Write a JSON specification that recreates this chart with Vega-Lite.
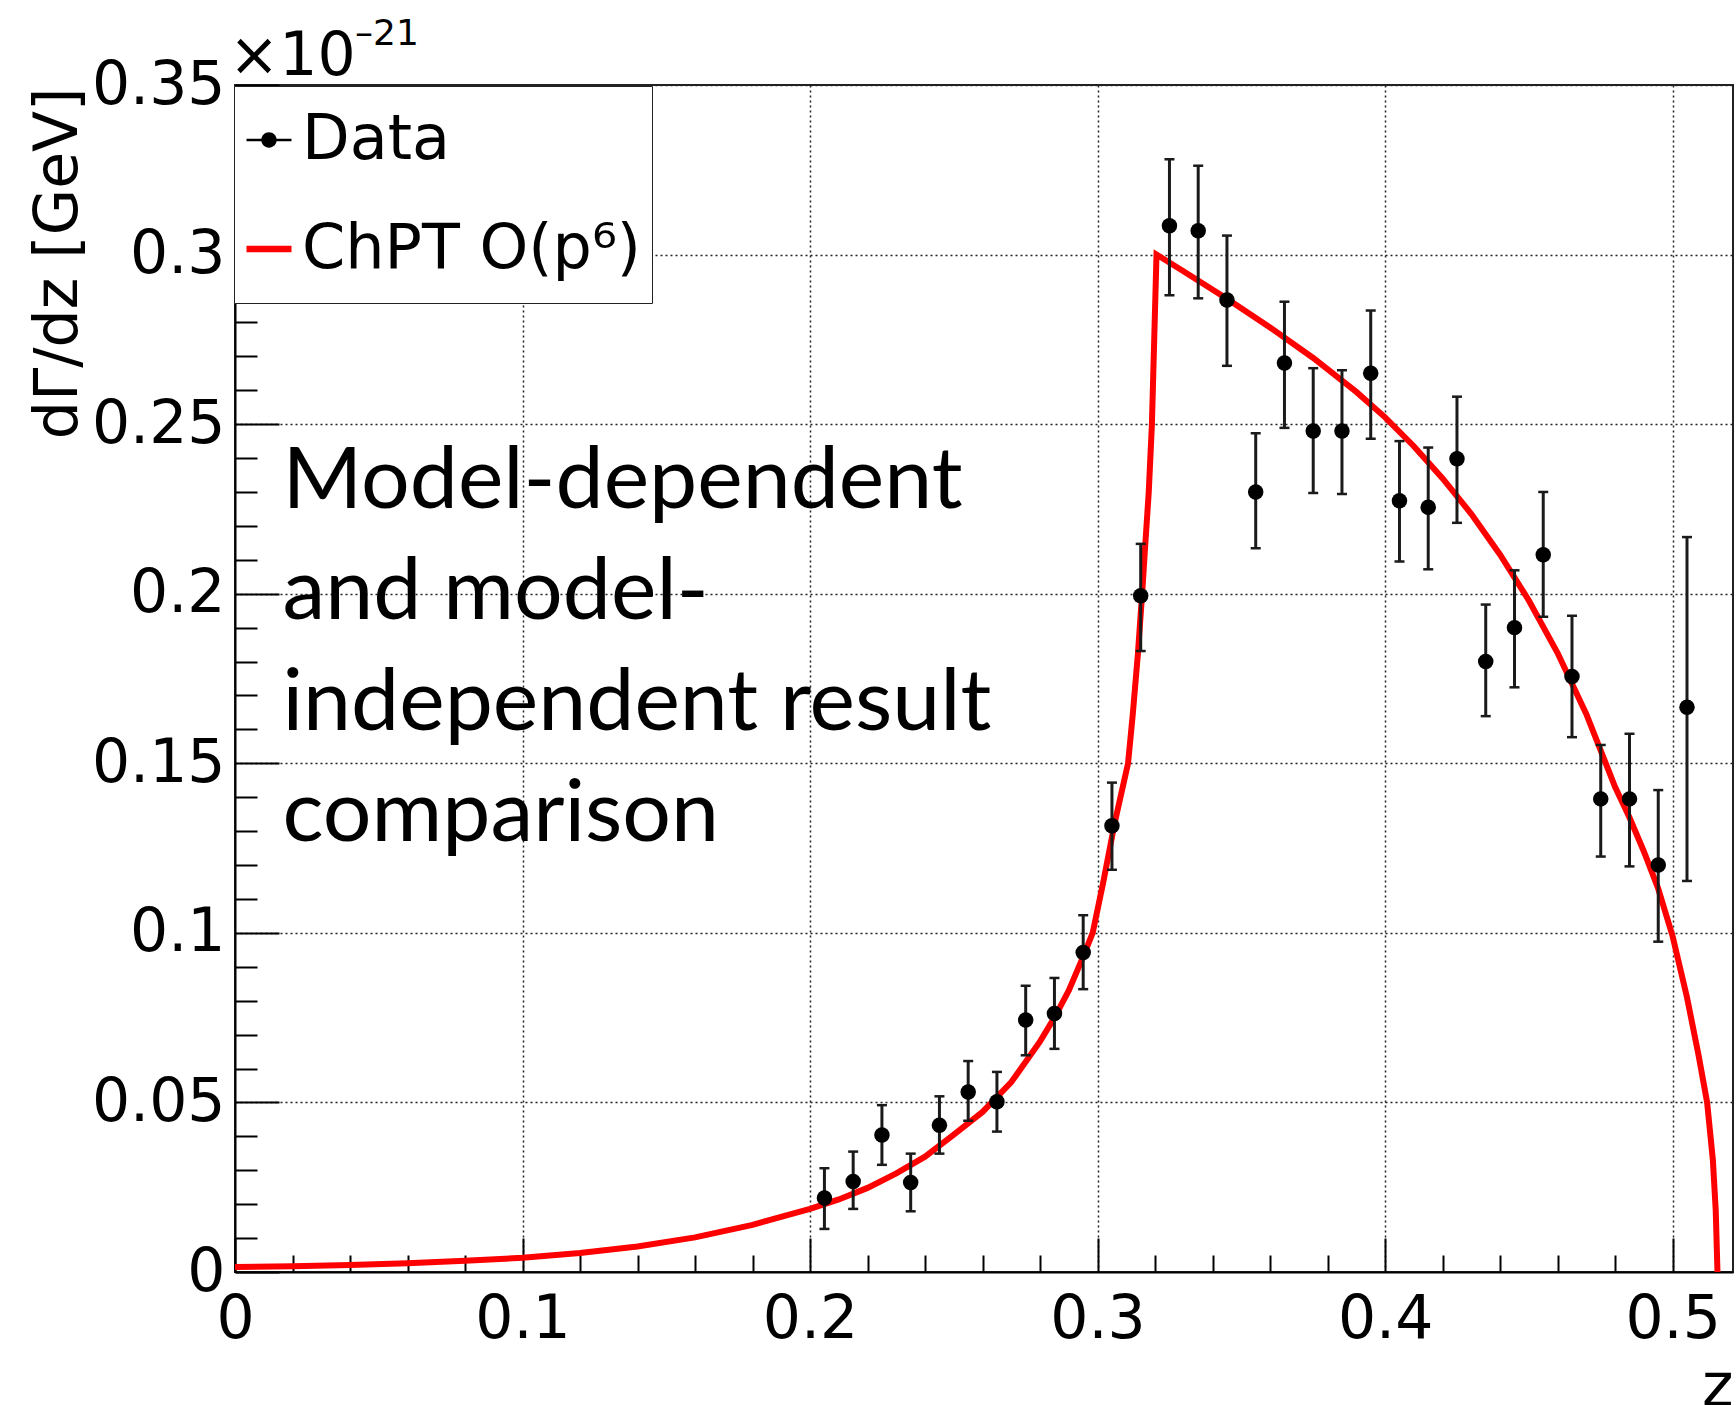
{
  "$schema": "https://vega.github.io/schema/vega-lite/v6.json",
  "width": 1498,
  "height": 1187,
  "autosize": {"type": "none"},
  "padding": {"left": 235, "top": 85, "right": 3, "bottom": 133},
  "background": "white",
  "config": {"view": {"stroke": "#222", "strokeWidth": 2}},
  "datasets": {
    "curve": [
      {"z": 0.0, "y": 0.0015}, {"z": 0.02, "y": 0.0017}, {"z": 0.04, "y": 0.0021}, {"z": 0.06, "y": 0.0026},
      {"z": 0.08, "y": 0.0033}, {"z": 0.1, "y": 0.0042}, {"z": 0.12, "y": 0.0056}, {"z": 0.14, "y": 0.0075},
      {"z": 0.16, "y": 0.0102}, {"z": 0.18, "y": 0.0139}, {"z": 0.2, "y": 0.0186}, {"z": 0.21, "y": 0.0214},
      {"z": 0.22, "y": 0.0248}, {"z": 0.23, "y": 0.0291}, {"z": 0.24, "y": 0.034}, {"z": 0.25, "y": 0.0405},
      {"z": 0.26, "y": 0.0472}, {"z": 0.27, "y": 0.056}, {"z": 0.28, "y": 0.068}, {"z": 0.285, "y": 0.075},
      {"z": 0.29, "y": 0.083}, {"z": 0.295, "y": 0.093}, {"z": 0.2983, "y": 0.1}, {"z": 0.302, "y": 0.115},
      {"z": 0.306, "y": 0.1326}, {"z": 0.3106, "y": 0.15}, {"z": 0.3122, "y": 0.164}, {"z": 0.314, "y": 0.182},
      {"z": 0.3155, "y": 0.2}, {"z": 0.3165, "y": 0.2133}, {"z": 0.3178, "y": 0.23}, {"z": 0.3189, "y": 0.25},
      {"z": 0.3197, "y": 0.275}, {"z": 0.3205, "y": 0.3}, {"z": 0.33, "y": 0.295}, {"z": 0.345, "y": 0.287},
      {"z": 0.36, "y": 0.2785}, {"z": 0.375, "y": 0.2695}, {"z": 0.39, "y": 0.2595}, {"z": 0.4, "y": 0.252},
      {"z": 0.41, "y": 0.2435}, {"z": 0.42, "y": 0.234}, {"z": 0.43, "y": 0.2235}, {"z": 0.44, "y": 0.2115},
      {"z": 0.45, "y": 0.198}, {"z": 0.46, "y": 0.1825}, {"z": 0.47, "y": 0.1645}, {"z": 0.48, "y": 0.143},
      {"z": 0.485, "y": 0.134}, {"z": 0.49, "y": 0.124}, {"z": 0.495, "y": 0.113}, {"z": 0.5, "y": 0.099},
      {"z": 0.505, "y": 0.081}, {"z": 0.509, "y": 0.064}, {"z": 0.512, "y": 0.05}, {"z": 0.514, "y": 0.033},
      {"z": 0.515, "y": 0.018}, {"z": 0.5156, "y": 0.0}
    ],
    "points": [
      {"series": "Data", "z": 0.205, "y": 0.0218, "lo": 0.0127, "hi": 0.0306},
      {"series": "Data", "z": 0.215, "y": 0.0267, "lo": 0.0186, "hi": 0.0355},
      {"series": "Data", "z": 0.225, "y": 0.0404, "lo": 0.0316, "hi": 0.0492},
      {"series": "Data", "z": 0.235, "y": 0.0264, "lo": 0.0179, "hi": 0.0349},
      {"series": "Data", "z": 0.245, "y": 0.0433, "lo": 0.0349, "hi": 0.0518},
      {"series": "Data", "z": 0.255, "y": 0.0531, "lo": 0.0446, "hi": 0.0622},
      {"series": "Data", "z": 0.265, "y": 0.0502, "lo": 0.0414, "hi": 0.059},
      {"series": "Data", "z": 0.275, "y": 0.0743, "lo": 0.0639, "hi": 0.0844},
      {"series": "Data", "z": 0.285, "y": 0.0762, "lo": 0.0658, "hi": 0.0867},
      {"series": "Data", "z": 0.295, "y": 0.0942, "lo": 0.0834, "hi": 0.1052},
      {"series": "Data", "z": 0.305, "y": 0.1316, "lo": 0.1186, "hi": 0.1443},
      {"series": "Data", "z": 0.315, "y": 0.1994, "lo": 0.1831, "hi": 0.2147},
      {"series": "Data", "z": 0.325, "y": 0.3085, "lo": 0.288, "hi": 0.3281},
      {"series": "Data", "z": 0.335, "y": 0.307, "lo": 0.2871, "hi": 0.3262},
      {"series": "Data", "z": 0.345, "y": 0.2866, "lo": 0.2672, "hi": 0.3056},
      {"series": "Data", "z": 0.355, "y": 0.23, "lo": 0.2134, "hi": 0.2473},
      {"series": "Data", "z": 0.365, "y": 0.268, "lo": 0.2489, "hi": 0.2861},
      {"series": "Data", "z": 0.375, "y": 0.248, "lo": 0.2297, "hi": 0.2665},
      {"series": "Data", "z": 0.385, "y": 0.248, "lo": 0.2294, "hi": 0.2659},
      {"series": "Data", "z": 0.395, "y": 0.265, "lo": 0.2457, "hi": 0.2835},
      {"series": "Data", "z": 0.405, "y": 0.2274, "lo": 0.2095, "hi": 0.245},
      {"series": "Data", "z": 0.415, "y": 0.2255, "lo": 0.2072, "hi": 0.2431},
      {"series": "Data", "z": 0.425, "y": 0.2398, "lo": 0.2209, "hi": 0.2581},
      {"series": "Data", "z": 0.435, "y": 0.18, "lo": 0.1639, "hi": 0.1968},
      {"series": "Data", "z": 0.445, "y": 0.19, "lo": 0.1724, "hi": 0.2069},
      {"series": "Data", "z": 0.455, "y": 0.2115, "lo": 0.1932, "hi": 0.23},
      {"series": "Data", "z": 0.465, "y": 0.1756, "lo": 0.1577, "hi": 0.1935},
      {"series": "Data", "z": 0.475, "y": 0.1395, "lo": 0.1225, "hi": 0.1554},
      {"series": "Data", "z": 0.485, "y": 0.1395, "lo": 0.1196, "hi": 0.1587},
      {"series": "Data", "z": 0.495, "y": 0.12, "lo": 0.0974, "hi": 0.1421},
      {"series": "Data", "z": 0.505, "y": 0.1665, "lo": 0.1153, "hi": 0.2167}
    ]
  },
  "encoding": {
    "x": {
      "type": "quantitative",
      "scale": {"domain": [0, 0.521], "nice": false, "zero": false},
      "axis": {
        "values": [0, 0.02, 0.04, 0.06, 0.08, 0.1, 0.12, 0.14, 0.16, 0.18, 0.2, 0.22, 0.24, 0.26, 0.28, 0.3, 0.32, 0.34, 0.36, 0.38, 0.4, 0.42, 0.44, 0.46, 0.48, 0.5],
        "title": "z", "titleFont": "DejaVu Sans", "titleFontSize": 60, "titleFontWeight": "normal", "titleColor": "black",
        "titleAnchor": "end", "titleAlign": "right", "titleBaseline": "alphabetic", "titleX": 1498, "titleY": 133,
        "labelExpr": "abs(datum.value*10 - round(datum.value*10)) < 0.000001 ? format(datum.value, '~g') : ''",
        "labelFont": "DejaVu Sans", "labelFontSize": 60, "labelColor": "black", "labelBaseline": "top",
        "labelPadding": 52, "labelFlush": false, "labelOverlap": false, "labelBound": false,
        "tickSize": {"condition": {"test": "abs(datum.value*10 - round(datum.value*10)) < 0.000001", "value": -34}, "value": -17},
        "tickColor": "black", "tickWidth": 2,
        "domainColor": "black", "domainWidth": 2,
        "grid": true, "gridColor": "#222", "gridDash": [2, 3], "gridWidth": 1.5,
        "gridOpacity": {"condition": {"test": "datum.value > 0.001 && abs(datum.value*10 - round(datum.value*10)) < 0.000001", "value": 1}, "value": 0}
      }
    },
    "y": {
      "type": "quantitative",
      "scale": {"domain": [0, 0.35], "nice": false, "zero": false},
      "axis": {
        "values": [0, 0.01, 0.02, 0.03, 0.04, 0.05, 0.06, 0.07, 0.08, 0.09, 0.1, 0.11, 0.12, 0.13, 0.14, 0.15, 0.16, 0.17, 0.18, 0.19, 0.2, 0.21, 0.22, 0.23, 0.24, 0.25, 0.26, 0.27, 0.28, 0.29, 0.3, 0.31, 0.32, 0.33, 0.34, 0.35],
        "title": "dΓ/dz [GeV]", "titleFont": "DejaVu Sans", "titleFontSize": 60, "titleFontWeight": "normal", "titleColor": "black",
        "titleAngle": 270, "titleAnchor": "end", "titleAlign": "right", "titleBaseline": "alphabetic", "titleX": -159, "titleY": 2,
        "labelExpr": "abs(datum.value*20 - round(datum.value*20)) < 0.000001 ? format(datum.value, '~g') : ''",
        "labelFont": "DejaVu Sans", "labelFontSize": 60, "labelColor": "black",
        "labelPadding": 54, "labelFlush": false, "labelOverlap": false, "labelBound": false,
        "tickSize": {"condition": {"test": "abs(datum.value*20 - round(datum.value*20)) < 0.000001", "value": -44}, "value": -22},
        "tickColor": "black", "tickWidth": 2,
        "domainColor": "black", "domainWidth": 2,
        "grid": true, "gridColor": "#222", "gridDash": [2, 3], "gridWidth": 1.5,
        "gridOpacity": {"condition": {"test": "datum.value > 0.001 && abs(datum.value*20 - round(datum.value*20)) < 0.000001", "value": 1}, "value": 0}
      }
    }
  },
  "layer": [
    {
      "data": {"name": "curve"},
      "mark": {"type": "line", "color": "#ff0000", "strokeWidth": 6, "strokeJoin": "miter", "strokeMiterLimit": 20},
      "encoding": {"x": {"field": "z"}, "y": {"field": "y"}}
    },
    {
      "data": {"name": "points"},
      "mark": {"type": "rule", "color": "#1a1a1a", "strokeWidth": 3},
      "encoding": {"x": {"field": "z"}, "y": {"field": "lo"}, "y2": {"field": "hi"}}
    },
    {
      "data": {"name": "points"},
      "mark": {"type": "tick", "orient": "horizontal", "size": 10, "thickness": 2.5, "color": "#1a1a1a", "opacity": 1},
      "encoding": {"x": {"field": "z"}, "y": {"field": "lo"}}
    },
    {
      "data": {"name": "points"},
      "mark": {"type": "tick", "orient": "horizontal", "size": 10, "thickness": 2.5, "color": "#1a1a1a", "opacity": 1},
      "encoding": {"x": {"field": "z"}, "y": {"field": "hi"}}
    },
    {
      "data": {"name": "points"},
      "mark": {"type": "point", "filled": true, "size": 240, "opacity": 1, "color": "black"},
      "encoding": {"x": {"field": "z"}, "y": {"field": "y"}}
    },
    {
      "data": {"name": "points"},
      "transform": [{"filter": "false"}],
      "mark": {"type": "point", "filled": true, "size": 2025, "opacity": 1},
      "encoding": {
        "x": {"field": "z"},
        "y": {"field": "y"},
        "color": {
          "field": "series", "type": "nominal",
          "scale": {"domain": ["Data", "ChPT O(p⁶)"], "range": ["black", "#ff0000"]},
          "legend": {
            "title": null, "orient": "none", "legendX": -1, "legendY": 1,
            "padding": 11, "strokeColor": "#222", "fillColor": "white",
            "labelFont": "DejaVu Sans", "labelFontSize": 62, "labelColor": "black", "labelLimit": 600,
            "labelExpr": "datum.label + ' '",
            "symbolSize": 2025, "symbolStrokeWidth": 0, "clipHeight": 86, "rowPadding": 23,
            "labelOffset": 2, "symbolOffset": -7
          }
        },
        "shape": {
          "field": "series", "type": "nominal",
          "scale": {"domain": ["Data", "ChPT O(p⁶)"], "range": ["M-1,-0.06H1V0.06H-1Z M0.34,0A0.34,0.34 0 1,1 -0.34,0A0.34,0.34 0 1,1 0.34,0Z", "M-1,-0.14H1V0.14H-1Z"]},
          "legend": {
            "title": null, "orient": "none", "legendX": -1, "legendY": 1,
            "padding": 11, "strokeColor": "#222", "fillColor": "white",
            "labelFont": "DejaVu Sans", "labelFontSize": 62, "labelColor": "black", "labelLimit": 600,
            "labelExpr": "datum.label + ' '",
            "symbolSize": 2025, "symbolStrokeWidth": 0, "clipHeight": 86, "rowPadding": 23,
            "labelOffset": 2, "symbolOffset": -7
          }
        }
      }
    },
    {
      "data": {"values": [{}]},
      "mark": {"type": "text", "font": "Lato", "fontSize": 86, "lineHeight": 111, "align": "left", "baseline": "alphabetic", "lineBreak": "\n", "color": "black"},
      "encoding": {
        "x": {"datum": 0.0165},
        "y": {"datum": 0.2254},
        "text": {"value": "Model-dependent\nand model-\nindependent result\ncomparison"}
      }
    },
    {
      "data": {"values": [{}]},
      "mark": {"type": "text", "font": "DejaVu Sans", "fontSize": 60, "align": "left", "baseline": "alphabetic", "dx": -6, "dy": -10, "color": "black"},
      "encoding": {
        "x": {"datum": 0},
        "y": {"datum": 0.35},
        "text": {"value": "×10"}
      }
    },
    {
      "data": {"values": [{}]},
      "mark": {"type": "text", "font": "DejaVu Sans", "fontSize": 36, "align": "left", "baseline": "alphabetic", "dx": 120, "dy": -40, "color": "black"},
      "encoding": {
        "x": {"datum": 0},
        "y": {"datum": 0.35},
        "text": {"value": "–21"}
      }
    }
  ]
}
